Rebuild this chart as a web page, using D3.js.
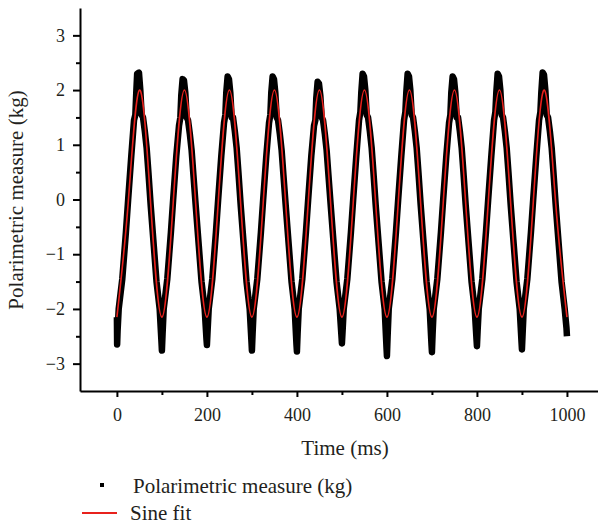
<!DOCTYPE html>
<html>
<head>
<meta charset="utf-8">
<script src="https://cdn.jsdelivr.net/npm/d3@7"></script>
<style>
  body { margin: 0; background: #fff; }
  text { font-family: "Liberation Serif", "DejaVu Serif", serif; fill: #231f20; }
</style>
</head>
<body>
<script>
// tick values
const xTicks = [0, 200, 400, 600, 800, 1000]
const xMinorTicks = [100, 300, 500, 700, 900]
const yTicks = [-3, -2, -1, 0, 1, 2, 3]
const yMinorTicks = [-2.5, -1.5, -0.5, 0.5, 1.5, 2.5]

// sine fit, read at troughs, zero crossings and peaks
const fitTime = [0, 25, 50, 75, 100, 125, 150, 175, 200, 225, 250, 275, 300, 325, 350, 375, 400,
  425, 450, 475, 500, 525, 550, 575, 600, 625, 650, 675, 700, 725, 750, 775, 800,
  825, 850, 875, 900, 925, 950, 975, 1000]
const fitValue = [-2.15, -0.07, 2.0, -0.07, -2.15, -0.07, 2.0, -0.07, -2.15, -0.07, 2.0, -0.07, -2.15, -0.07, 2.0, -0.07, -2.15,
  -0.07, 2.0, -0.07, -2.15, -0.07, 2.0, -0.07, -2.15, -0.07, 2.0, -0.07, -2.15, -0.07, 2.0, -0.07, -2.15,
  -0.07, 2.0, -0.07, -2.15, -0.07, 2.0, -0.07, -2.15]

// measured trace (time ms, value kg), one row per cycle
const measured = [
  [0, -2.15], [0.5, -2.65], [1.5, -2.4], [4, -2.0], [12, -1.45], [20, -0.6], [25, 0.0], [32, 0.8], [38, 1.45], [41, 1.55], [43, 1.95], [45, 2.3], [49, 2.32], [52, 2.0], [55, 1.55], [58, 1.5], [62, 1.25], [66, 0.95], [70, 0.5], [75, -0.1], [82, -0.85], [88, -1.5], [95, -2.0],
  [99, -2.6], [100, -2.76], [101.5, -2.45], [104, -2.0], [112, -1.45], [120, -0.6], [125, 0.0], [132, 0.8], [138, 1.35], [141, 1.5], [143, 1.9], [146, 2.2], [149, 2.18], [152, 1.95], [155, 1.5], [158, 1.45], [162, 1.2], [166, 0.9], [170, 0.45], [175, -0.1], [182, -0.85], [188, -1.5], [195, -2.0],
  [199, -2.55], [200, -2.66], [201.5, -2.4], [204, -2.0], [212, -1.45], [220, -0.6], [225, 0.0], [232, 0.8], [238, 1.4], [241, 1.55], [243, 1.95], [246, 2.25], [249, 2.2], [252, 1.95], [255, 1.5], [258, 1.5], [262, 1.25], [266, 0.95], [270, 0.5], [275, -0.1], [282, -0.85], [288, -1.5], [295, -2.0],
  [299, -2.6], [300, -2.76], [301.5, -2.45], [304, -2.0], [312, -1.45], [320, -0.6], [325, 0.0], [332, 0.8], [338, 1.4], [341, 1.55], [343, 1.95], [346, 2.25], [349, 2.2], [352, 1.95], [355, 1.5], [358, 1.45], [362, 1.2], [366, 0.9], [370, 0.45], [375, -0.1], [382, -0.85], [388, -1.5], [395, -2.0],
  [399, -2.65], [400, -2.78], [401.5, -2.45], [404, -2.0], [412, -1.45], [420, -0.6], [425, 0.0], [432, 0.8], [438, 1.35], [441, 1.45], [443, 1.85], [446, 2.15], [449, 2.12], [452, 1.9], [455, 1.5], [458, 1.45], [462, 1.2], [466, 0.9], [470, 0.45], [475, -0.1], [482, -0.85], [488, -1.5], [495, -2.0],
  [499, -2.5], [500, -2.63], [501.5, -2.4], [504, -2.0], [512, -1.45], [520, -0.6], [525, 0.0], [532, 0.8], [538, 1.45], [541, 1.6], [543, 1.95], [546, 2.3], [549, 2.25], [552, 2.0], [555, 1.55], [558, 1.5], [562, 1.25], [566, 0.95], [570, 0.5], [575, -0.1], [582, -0.85], [588, -1.5], [595, -2.0],
  [599, -2.7], [600, -2.86], [601.5, -2.5], [604, -2.0], [612, -1.45], [620, -0.6], [625, 0.0], [632, 0.8], [638, 1.45], [641, 1.6], [643, 1.95], [646, 2.3], [649, 2.25], [652, 2.0], [655, 1.55], [658, 1.5], [662, 1.25], [666, 0.95], [670, 0.5], [675, -0.1], [682, -0.85], [688, -1.5], [695, -2.0],
  [699, -2.65], [700, -2.79], [701.5, -2.45], [704, -2.0], [712, -1.45], [720, -0.6], [725, 0.0], [732, 0.8], [738, 1.4], [741, 1.55], [743, 1.95], [746, 2.25], [749, 2.2], [752, 1.95], [755, 1.5], [758, 1.5], [762, 1.25], [766, 0.95], [770, 0.5], [775, -0.1], [782, -0.85], [788, -1.5], [795, -2.0],
  [799, -2.55], [800, -2.68], [801.5, -2.4], [804, -2.0], [812, -1.45], [820, -0.6], [825, 0.0], [832, 0.8], [838, 1.45], [841, 1.6], [843, 1.95], [846, 2.3], [849, 2.25], [852, 2.0], [855, 1.55], [858, 1.5], [862, 1.25], [866, 0.95], [870, 0.5], [875, -0.1], [882, -0.85], [888, -1.5], [895, -2.0],
  [899, -2.6], [900, -2.74], [901.5, -2.45], [904, -2.0], [912, -1.45], [920, -0.6], [925, 0.0], [932, 0.8], [938, 1.45], [941, 1.6], [943, 1.95], [946, 2.32], [949, 2.28], [952, 2.0], [955, 1.55], [958, 1.5], [962, 1.25], [966, 0.95], [970, 0.5], [975, -0.1], [982, -0.85], [988, -1.5], [995, -2.0],
  [999, -2.35], [1000, -2.5]
]

const width = 598
const height = 526

const svg = d3.select('body').append('svg')
  .attr('xmlns', 'http://www.w3.org/2000/svg')
  .attr('width', width)
  .attr('height', height)

const x = d3.scaleLinear().domain([-82, 1069]).range([80, 598])
const y = d3.scaleLinear().domain([-3.5, 3.5]).range([391, 8])

// measured trace
svg.append('path')
  .datum(measured)
  .attr('d', d3.line().x(d => x(d[0])).y(d => y(d[1])))
  .attr('fill', 'none')
  .attr('stroke', '#000')
  .attr('stroke-width', 6.5)
  .attr('stroke-linejoin', 'round')

// sine fit
svg.append('path')
  .datum(d3.zip(fitTime, fitValue))
  .attr('d', d3.line().x(d => x(d[0])).y(d => y(d[1])).curve(d3.curveNatural))
  .attr('fill', 'none')
  .attr('stroke', '#e8211c')
  .attr('stroke-width', 1.6)

// axes
svg.append('g')
  .attr('transform', `translate(0,${y(-3.5)})`)
  .call(d3.axisBottom(x).tickValues(xTicks).tickSize(6).tickSizeOuter(0).tickPadding(11).tickFormat(d3.format('d')))
svg.append('g')
  .attr('transform', `translate(0,${y(-3.5)})`)
  .call(d3.axisBottom(x).tickValues(xMinorTicks).tickSize(4).tickSizeOuter(0).tickFormat(''))
  .select('.domain').remove()

svg.append('g')
  .attr('transform', `translate(${x(-82)},0)`)
  .call(d3.axisLeft(y).tickValues(yTicks).tickSize(7).tickSizeOuter(0).tickPadding(8)
    .tickFormat(d => d < 0 ? '\u2212' + Math.abs(d) : d))
svg.append('g')
  .attr('transform', `translate(${x(-82)},0)`)
  .call(d3.axisLeft(y).tickValues(yMinorTicks).tickSize(4).tickSizeOuter(0).tickFormat(''))
  .select('.domain').remove()

svg.selectAll('.domain, .tick line').attr('stroke', '#000').attr('stroke-width', 2)
svg.selectAll('.tick text')
  .attr('font-family', '"Liberation Serif", serif')
  .attr('font-size', 18)
  .attr('fill', '#231f20')

// axis titles
svg.append('text')
  .attr('x', 345).attr('y', 455)
  .attr('text-anchor', 'middle')
  .attr('font-size', 21)
  .text('Time (ms)')

svg.append('text')
  .attr('transform', 'translate(23,200) rotate(-90)')
  .attr('text-anchor', 'middle')
  .attr('font-size', 21)
  .text('Polarimetric measure (kg)')

// legend
svg.append('rect')
  .attr('x', 100).attr('y', 483).attr('width', 4).attr('height', 4)
  .attr('fill', '#000')
svg.append('text')
  .attr('x', 133).attr('y', 493)
  .attr('font-size', 21)
  .text('Polarimetric measure (kg)')
svg.append('line')
  .attr('x1', 82).attr('x2', 117).attr('y1', 513).attr('y2', 513)
  .attr('stroke', '#e8211c').attr('stroke-width', 1.8)
svg.append('text')
  .attr('x', 130).attr('y', 520)
  .attr('font-size', 21)
  .text('Sine fit')
</script>
</body>
</html>
